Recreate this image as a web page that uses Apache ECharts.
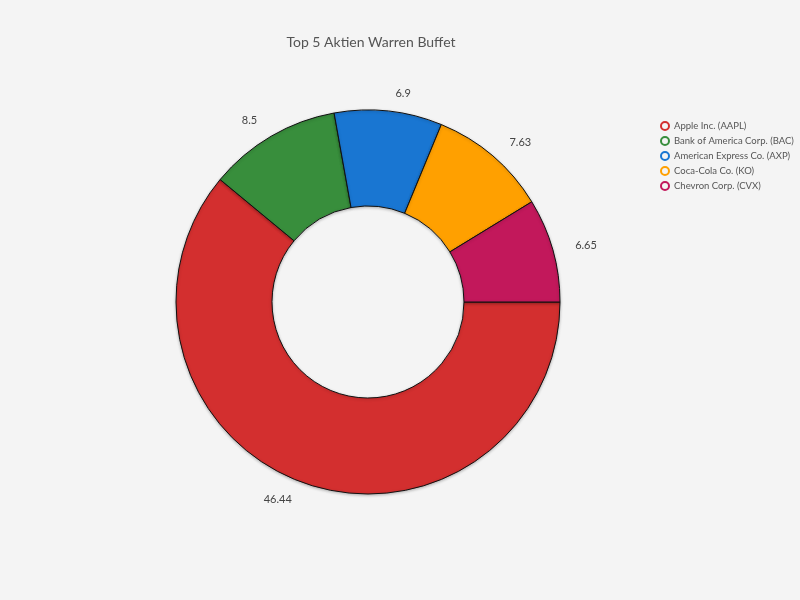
<!DOCTYPE html>
<html>
<head>
<meta charset="utf-8">
<script src="https://cdn.jsdelivr.net/npm/echarts@6/dist/echarts.min.js"></script>
<style>
  html, body { margin: 0; padding: 0; background: #f4f4f4; }
  #chart { width: 800px; height: 600px; }
</style>
</head>
<body>
<div id="chart"></div>
<script>
"use strict";

// Top 5 Positionen (Anteil in %)
const names = [
  "Apple Inc. (AAPL)",
  "Bank of America Corp. (BAC)",
  "American Express Co. (AXP)",
  "Coca-Cola Co. (KO)",
  "Chevron Corp. (CVX)",
];
const values = [46.44, 8.5, 6.9, 7.63, 6.65];
const colors = ["#d32f2f", "#388e3c", "#1976d2", "#ffa000", "#c2185b"];

const FONT = "Lato, 'Open Sans', sans-serif";

const chart = echarts.init(document.getElementById("chart"));
chart.setOption({
  backgroundColor: "#f4f4f4",
  color: colors,
  title: {
    text: "Top 5 Aktien Warren Buffet",
    left: 366, top: 30, textAlign: "center",
    textStyle: { fontFamily: FONT, fontSize: 14, fontWeight: "normal", color: "#555" },
  },
  legend: {
    orient: "vertical",
    left: 655, top: 116,
    icon: "circle",
    itemWidth: 8, itemHeight: 8, itemGap: 5,
    textStyle: { fontFamily: FONT, fontSize: 9.5, color: "#555" },
    data: names.map((n, i) => ({
      name: n,
      itemStyle: { color: "#f4f4f4", borderColor: colors[i], borderWidth: 2 },
    })),
  },
  series: [{
    type: "pie",
    center: [368, 302],
    radius: [96, 192],
    startAngle: 0,
    clockwise: true,
    avoidLabelOverlap: false,
    itemStyle: {
      borderColor: "#111", borderWidth: 1,
      shadowBlur: 3, shadowColor: "rgba(0,0,0,0.25)", shadowOffsetY: 1,
    },
    label: {
      position: "outside",
      formatter: p => String(p.value),
      fontFamily: FONT, fontSize: 11, color: "#444",
    },
    labelLine: { show: false, length: 18, length2: 0 },
    emphasis: { scale: false },
    data: names.map((n, i) => ({ name: n, value: values[i] })),
  }],
});
</script>
</body>
</html>
